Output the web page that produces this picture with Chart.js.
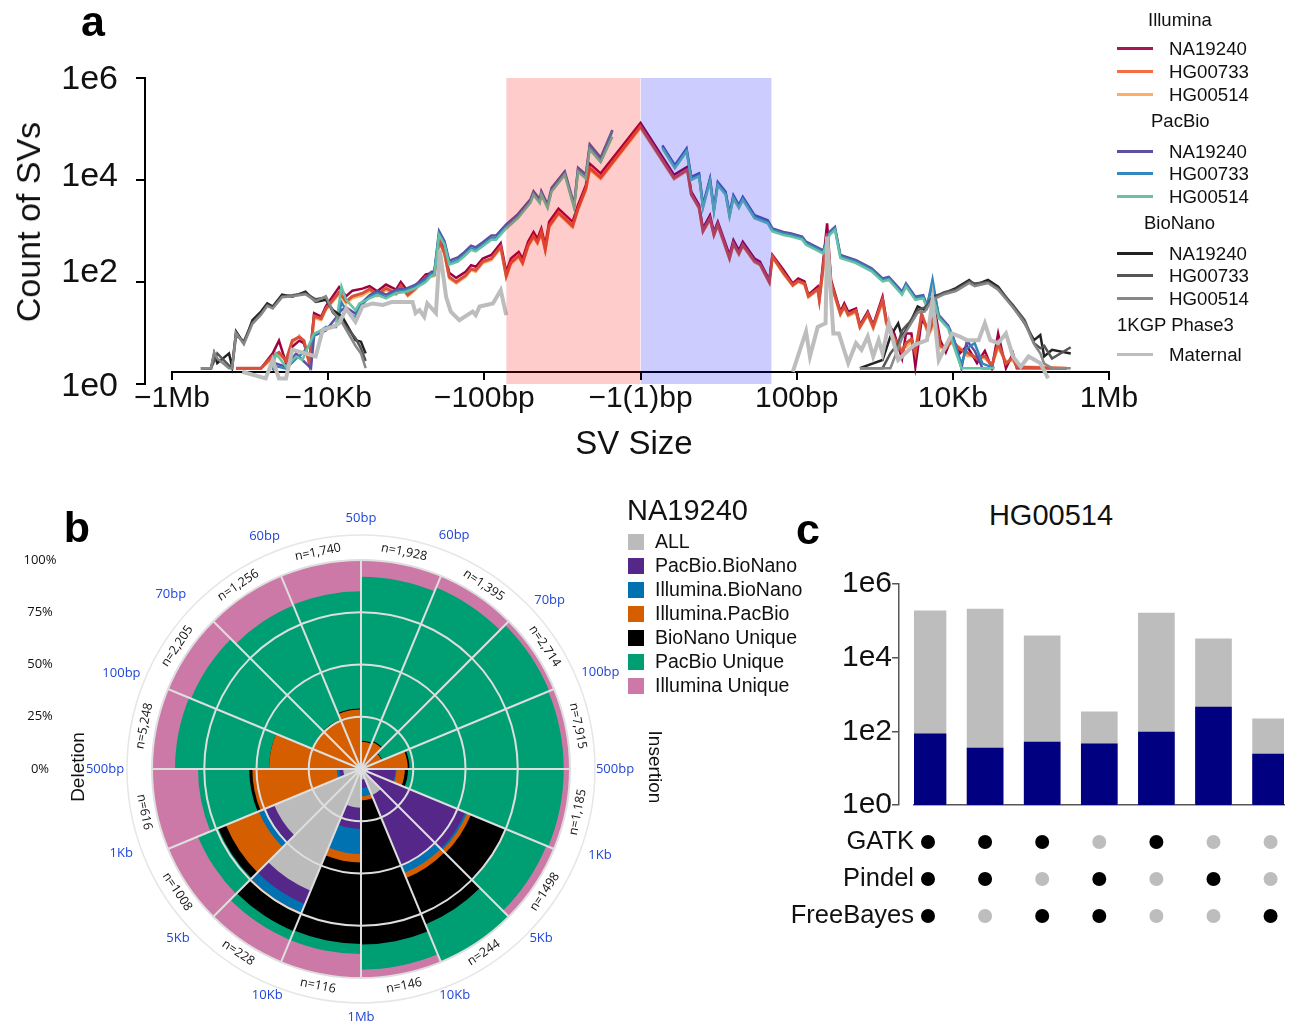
<!DOCTYPE html>
<html lang="en">
<head>
<meta charset="UTF-8">
<title>SV panels</title>
<script src="https://cdn.jsdelivr.net/npm/chart.js"></script>
<style>
    html, body { margin: 0; padding: 0; background: #fff; }
    body { width: 1289px; height: 1026px; position: relative; overflow: hidden; font-family: 'Liberation Sans', Arial, sans-serif; color: #111; }
    canvas { position: absolute; }
    .t { position: absolute; white-space: nowrap; transform: translate(0, -50%); line-height: 1; }
    .c { transform: translate(-50%, -50%); }
    .panel { font-weight: 700; font-size: 43px; color: #000; }
    .line { position: absolute; width: 36px; height: 2.5px; left: 1117px; }
    .swatch { position: absolute; width: 16px; height: 16px; left: 628px; }
</style>
</head>
<body>
<canvas id="sizeChart" width="1289" height="480" style="left:0;top:0"></canvas>
<canvas id="polarChart" width="720" height="536" style="left:0;top:490px"></canvas>
<canvas id="barChart" width="509" height="301" style="left:780px;top:544px"></canvas>
<canvas id="dotChart" width="509" height="110" style="left:780px;top:824px"></canvas>
<div id="labels"></div>

<script>
// panel a: x is signed log10(bp), y is log10(count of SVs)
const sizeTickLabels = { '-6': '\u22121Mb', '-4': '\u221210Kb', '-2': '\u2212100bp', '0': '\u22121(1)bp', '2': '100bp', '4': '10Kb', '6': '1Mb' };
const countTicks = [0, 2, 4, 6];
const delBandX = [-1.72, 0];
const insBandX = [0, 1.68];
const bandTop = [6, 6];

const illuminaX = [
    -5.18,-4.86,-4.71,-4.63,-4.54,-4.46,-4.37,-4.31,-4.24,-4.18,
    -4.09,-4.03,-3.86,-3.77,-3.69,-3.56,-3.47,-3.37,-3.26,-3.13,
    -3.07,-2.98,-2.88,-2.75,-2.64,-2.58,-2.51,-2.45,-2.36,-2.24,
    -2.17,-2.11,-2.02,-1.91,-1.79,-1.72,-1.66,-1.56,-1.51,-1.44,
    -1.37,-1.32,-1.27,-1.22,-1.17,-1.05,-.87,-.80,-.70,-.65,
    -.51,0,.43,.60,.65,.75,.80,.89,.94,.99,
    1.14,1.19,1.26,1.31,1.46,1.53,1.65,1.69,1.83,1.95,
    2.02,2.10,2.15,2.27,2.29,2.39,2.44,2.56,2.61,2.66,
    2.76,2.81,2.91,2.98,3.10,3.15,3.25,3.35,3.40,3.47,
    3.52,3.60,3.69,3.77,3.84,3.91,3.99,4.09,4.18,4.31,
    4.41,4.50,4.58,4.68,4.77,4.82,5.46];
const illuminaNA19240 = [
    .31,.31,.60,.85,.41,.73,.85,.80,.47,1.39,
    1.32,1.52,1.90,1.72,1.83,1.87,1.92,1.82,1.95,1.85,
    2.00,1.82,1.93,2.15,2.18,2.89,2.63,2.18,2.08,2.20,
    2.33,2.30,2.46,2.53,2.76,2.20,2.46,2.59,2.46,2.79,
    2.98,2.85,3.05,2.72,3.18,3.44,3.18,3.51,3.90,4.32,
    4.13,5.12,4.10,4.26,3.77,3.51,3.05,3.31,2.98,3.18,
    2.53,2.82,2.62,2.79,2.46,2.40,2.04,2.53,2.24,1.97,
    2.07,2.01,1.75,1.91,1.68,3.15,2.04,1.42,1.58,1.42,
    1.48,1.16,1.42,1.16,1.71,1.25,.99,.50,.99,.99,
    .34,1.25,1.10,1.45,.85,.62,.93,.60,.75,.41,
    .65,.31,.99,.31,.60,.31,.31];
const illuminaHG00733 = [
    .31,.31,.55,.62,.45,.85,.92,.85,.40,1.33,
    1.28,1.48,1.80,1.62,1.72,1.78,1.86,1.75,1.88,1.78,
    1.93,1.75,1.88,2.10,2.14,2.82,2.57,2.10,2.00,2.13,
    2.26,2.23,2.40,2.46,2.69,2.12,2.38,2.52,2.38,2.72,
    2.90,2.78,2.98,2.64,3.10,3.36,3.10,3.44,3.83,4.24,
    4.05,5.05,4.04,4.20,3.72,3.46,3.00,3.25,2.93,3.13,
    2.47,2.76,2.56,2.73,2.41,2.35,2.00,2.50,2.18,1.94,
    2.02,1.97,1.72,1.86,1.65,2.95,1.98,1.38,1.52,1.36,
    1.44,1.12,1.38,1.12,1.65,1.20,.90,.62,.80,.88,
    .60,1.38,1.00,1.30,.75,.70,.85,.68,.62,.50,
    .55,.35,.80,.40,.52,.33,.31];
const illuminaHG00514 = [
    .31,.31,.50,.58,.50,.80,.95,.78,.38,1.30,
    1.25,1.45,1.76,1.58,1.68,1.74,1.82,1.72,1.84,1.75,
    1.90,1.72,1.85,2.08,2.12,2.78,2.54,2.07,1.97,2.10,
    2.23,2.20,2.37,2.43,2.66,2.09,2.35,2.49,2.35,2.69,
    2.87,2.75,2.95,2.61,3.07,3.33,3.07,3.41,3.80,4.20,
    4.02,5.02,4.01,4.18,3.70,3.44,2.98,3.22,2.90,3.10,
    2.44,2.73,2.53,2.70,2.38,2.33,1.98,2.48,2.16,1.92,
    2.00,1.95,1.70,1.84,1.62,2.85,1.95,1.35,1.50,1.33,
    1.40,1.10,1.35,1.08,1.60,1.15,.85,.70,.72,.82,
    .72,1.32,.95,1.20,.70,.75,.80,.72,.55,.55,
    .50,.38,.70,.45,.45,.35,.31];

const pacbioX = [
    -4.71,-4.67,-4.54,-4.41,-4.33,-4.22,-4.18,-4.03,-3.90,-3.83,
    -3.77,-3.65,-3.60,-3.47,-3.37,-3.26,-3.13,-3.00,-2.88,-2.75,
    -2.68,-2.64,-2.58,-2.51,-2.45,-2.34,-2.26,-2.17,-2.11,-2.02,
    -1.91,-1.85,-1.72,-1.57,-1.41,-1.37,-1.29,-1.27,-1.19,-1.14,
    -.97,-.85,-.80,-.70,-.65,-.51,-.36,0,.28,.44,
    .59,.65,.75,.80,.89,.94,.99,1.09,1.14,1.19,
    1.26,1.31,1.46,1.63,1.69,1.83,1.93,2.07,2.12,2.34,
    2.42,2.49,2.56,2.76,2.96,3.10,3.18,3.35,3.40,3.52,
    3.62,3.67,3.74,3.82,3.94,4.01,4.11,4.18,4.28,4.38,
    4.53];
const pacbioNA19240 = [
    .27,.40,.34,.60,.47,.31,.95,1.05,1.30,1.45,
    1.50,1.38,1.55,1.74,1.82,1.75,1.85,1.87,1.95,2.08,
    2.20,2.21,3.00,2.80,2.42,2.48,2.58,2.71,2.68,2.78,
    2.91,2.91,3.13,3.33,3.62,3.78,3.62,3.78,3.52,3.84,
    4.17,3.52,4.24,4.11,4.70,4.44,4.98,null,4.68,4.29,
    4.62,4.06,4.13,3.51,4.03,3.44,3.96,3.77,3.34,3.70,
    3.51,3.67,3.31,3.21,3.05,2.98,2.95,2.89,2.79,2.62,
    2.98,3.08,2.53,2.43,2.27,2.07,2.10,1.81,1.97,1.71,
    1.74,1.55,1.94,1.35,1.15,.90,.31,.85,.65,.31,
    .31];
const pacbioHG00733 = [
    .27,.35,.30,.50,.60,.80,.95,1.12,1.12,1.60,
    1.45,1.30,1.50,1.71,1.78,1.70,1.81,1.84,1.91,2.04,
    2.16,2.17,2.95,2.76,2.37,2.43,2.53,2.66,2.63,2.73,
    2.86,2.86,3.08,3.28,3.58,3.74,3.58,3.74,3.48,3.80,
    4.13,3.48,4.20,4.07,4.65,4.39,4.96,null,4.65,4.26,
    4.59,4.03,4.10,3.48,4.00,3.41,3.93,3.74,3.31,3.67,
    3.48,3.64,3.28,3.18,3.02,2.95,2.92,2.86,2.76,2.59,
    2.95,3.05,2.50,2.40,2.24,2.04,2.07,1.78,1.94,1.68,
    1.71,1.52,2.05,1.32,1.12,.86,.40,.70,.80,.40,
    .31];
const pacbioHG00514 = [
    .31,.60,.34,.54,.47,.86,.99,1.09,1.16,1.91,
    1.65,1.45,1.58,1.68,1.75,1.68,1.78,1.81,1.88,2.00,
    2.12,2.14,2.92,2.73,2.34,2.40,2.50,2.63,2.60,2.70,
    2.83,2.83,3.05,3.25,3.55,3.71,3.55,3.71,3.45,3.77,
    4.10,3.45,4.16,4.03,4.60,4.35,4.85,null,4.62,4.23,
    4.56,4.00,4.07,3.45,3.97,3.38,3.90,3.71,3.28,3.64,
    3.45,3.61,3.25,3.15,2.99,2.92,2.89,2.83,2.73,2.56,
    2.92,3.02,2.47,2.37,2.21,2.01,2.04,1.75,1.91,1.65,
    1.68,1.49,1.75,1.29,1.09,.75,.31,.31,.31,.31,
    .31];

const bionanoX = [
    -5.63,-5.50,-5.46,-5.42,-5.27,-5.23,-5.18,-5.08,-4.97,-4.86,
    -4.78,-4.71,-4.59,-4.46,-4.29,-4.16,-4.03,-3.94,-3.82,-3.65,
    -3.58,-3.52,0,2.81,3.10,3.20,3.30,3.35,3.45,3.55,
    3.64,3.74,3.89,4.04,4.21,4.28,4.45,4.58,4.77,4.92,
    5.04,5.12,5.17,5.27,5.51];
const bionanoNA19240 = [
    .31,.31,.60,.41,.60,.34,1.03,.80,1.25,1.42,
    1.58,1.52,1.75,1.71,1.81,1.61,1.65,1.45,1.32,.86,
    .83,.60,null,.31,.47,.93,1.19,.93,1.19,1.52,
    1.45,1.71,1.78,1.88,2.04,1.94,2.04,1.91,1.52,1.19,
    .86,.96,.54,.67,.60];
const bionanoHG00733 = [
    .31,.31,.45,.60,.36,.31,.95,.84,1.20,1.38,
    1.55,1.50,1.72,1.74,1.78,1.66,1.70,1.40,1.22,.90,
    .70,.45,null,.31,.31,.60,.80,1.05,1.22,1.45,
    1.50,1.68,1.80,1.85,2.01,1.97,2.00,1.88,1.55,1.25,
    .80,.70,.75,.50,.72];
const bionanoHG00514 = [
    .31,.31,.62,.50,.31,.31,1.00,.78,1.18,1.36,
    1.53,1.48,1.70,1.72,1.76,1.62,1.72,1.42,1.20,.75,
    .60,.31,null,.31,.31,.31,.70,.90,1.15,1.40,
    1.42,1.65,1.76,1.82,1.98,1.92,1.98,1.85,1.50,1.20,
    .78,.60,.40,.31,.31];

const maternalX = [
    -5.10,-4.80,-4.71,-4.63,-4.54,-4.46,-4.29,-4.16,-4.07,-3.94,
    -3.86,-3.77,-3.65,-3.56,-3.43,-3.30,-3.18,-2.92,-2.88,-2.83,
    -2.77,-2.73,-2.62,-2.57,-2.49,-2.43,-2.32,-2.15,-2.11,-2.06,
    -1.89,-1.79,-1.72,0,1.95,2.12,2.17,2.27,2.37,2.39,
    2.47,2.54,2.66,2.76,2.83,2.91,2.98,3.05,3.10,3.18,
    3.30,3.50,3.67,3.74,3.82,3.99,4.09,4.18,4.33,4.41,
    4.48,4.58,4.68,4.77,4.87,4.97,5.12,5.22];
const maternalY = [
    .24,.11,.47,.11,.11,.67,.60,.54,1.06,1.12,
    1.19,1.48,1.22,1.52,1.58,1.55,1.61,1.61,1.39,1.45,
    1.32,1.58,1.39,2.63,1.71,1.42,1.25,1.42,1.35,1.52,
    1.58,1.84,1.35,null,.24,1.03,.54,1.12,1.19,2.89,
    .99,.99,.41,.80,.67,.93,.54,.86,.60,1.19,
    .47,.76,.86,1.65,.47,.99,.93,.86,.86,1.19,
    .86,.80,.99,.54,.34,.54,.41,.11];

// panel b: share of each caller set per size bin, clockwise from the top
const binLabels = ['50bp','60bp','70bp','100bp','500bp','1Kb','5Kb','10Kb','1Mb','10Kb','5Kb','1Kb','500bp','100bp','70bp','60bp'];
const binCounts = ['n=1,928','n=1,395','n=2,714','n=7,915','n=1,185','n=1498','n=244','n=146','n=116','n=228','n=1008','n=616','n=5,248','n=2,205','n=1,256','n=1,740'];
const percentTicks = [0, 25, 50, 75, 100];
const allShare        = [0, 0, 0, 0, 3.5, 3, 13.5, 5, 18.5, 63, 45, 8.5, 1, 1, 1, 0];
const pacbioBionano   = [0, 0, 0, 0, 13, 51, 37, 4, 10.2, 7, 4.5, 1.8, 0, 0, 0, 0];
const illuminaBionano = [0, 0, 0, 0, .5, 1, 3.5, 4, 12, 4.5, 3.5, 1.3, 0, 0, 0, 0];
const illuminaPacbio  = [13, 14, 10.7, 22.4, 4, 2, 2.5, 2, 4, 1, 17, 40.4, 43, 24.5, 24.5, 28.5];
const bionanoUnique   = [.5, .5, .3, .8, 1.5, 18, 24, 69, 39, 8.5, 4, 1.5, 0, 0, .2, .5];
const pacbioUnique    = [78.5, 79.5, 86.5, 73.8, 74.5, 21, 19.5, 12, 4.8, 4.5, 10.5, 24.5, 45, 62.5, 59, 56];
const illuminaUnique  = [8, 6, 2.5, 3, 3, 4, 0, 4, 11.5, 11.5, 15.5, 22, 11, 12, 15.3, 15];
const setNames = ['ALL','PacBio.BioNano','Illumina.BioNano','Illumina.PacBio','BioNano Unique','PacBio Unique','Illumina Unique'];
const setColors = ['#bbbbbb','#542788','#0072b2','#d55e00','#000000','#009e73','#cc79a7'];

// panel c: counts per caller combination
const comboIndex = [0, 1, 2, 3, 4, 5, 6];
const allCounts = [186000, 209000, 38900, 339, 162000, 32400, 219];
const sharedCounts = [85, 35, 51, 46, 96, 457, 24];
const tools = ['GATK', 'Pindel', 'FreeBayes'];
const gatkHit = [1, 1, 1, 0, 1, 0, 0];
const pindelHit = [1, 1, 0, 1, 0, 1, 0];
const freebayesHit = [1, 0, 1, 1, 0, 0, 1];

function pairs(xs, ys) {
    return xs.map((x, i) => ({ x: x, y: ys[i] }));
}

function sizeLine(label, xs, ys, color, width, order) {
    return { label: label, data: pairs(xs, ys), borderColor: color, borderWidth: width, pointRadius: 0, tension: 0, spanGaps: false, fill: false, order: order };
}

function band(label, xs, color) {
    return { label: label, data: pairs(xs, bandTop), borderWidth: 0, pointRadius: 0, backgroundColor: color, fill: 'origin', order: 0 };
}

// labels in the reference sit a little off their tick marks
const countLabelNudge = { 0: -0.06, 2: 0.18, 4: 0.06, 6: -0.04 };

new Chart(document.getElementById('sizeChart'), {
    type: 'line',
    data: {
        datasets: [
            band('Deletions', delBandX, 'rgba(255,0,0,0.2)'),
            band('Insertions', insBandX, 'rgba(0,0,255,0.2)'),
            sizeLine('Maternal', maternalX, maternalY, '#bdbdbd', 4, 1),
            sizeLine('BioNano NA19240', bionanoX, bionanoNA19240, '#222222', 2.5, 4),
            sizeLine('BioNano HG00733', bionanoX, bionanoHG00733, '#555555', 2.5, 3),
            sizeLine('BioNano HG00514', bionanoX, bionanoHG00514, '#888888', 2.5, 2),
            sizeLine('PacBio HG00514', pacbioX, pacbioHG00514, '#66c2a5', 2.5, 5),
            sizeLine('PacBio HG00733', pacbioX, pacbioHG00733, '#3288bd', 2.5, 6),
            sizeLine('PacBio NA19240', pacbioX, pacbioNA19240, '#5e4fa2', 2.5, 7),
            sizeLine('Illumina HG00733', illuminaX, illuminaHG00733, '#d9503a', 3, 8),
            sizeLine('Illumina NA19240', illuminaX, illuminaNA19240, '#9e0142', 2.5, 9),
            sizeLine('Illumina HG00514', illuminaX, illuminaHG00514, '#fdae61', 2.5, 10)
        ]
    },
    options: {
        responsive: false,
        animation: false,
        layout: { autoPadding: false, padding: { left: 57, right: 180, top: 78, bottom: 96 } },
        plugins: { legend: { display: false }, tooltip: { enabled: false } },
        scales: {
            x: {
                type: 'linear', min: -6, max: 6,
                position: { y: 0.235 },
                border: { color: '#000', width: 2 },
                grid: { drawOnChartArea: false, color: '#000', lineWidth: 2, tickLength: 7 },
                ticks: {
                    stepSize: 2, autoSkip: false, maxRotation: 0, padding: 2, color: '#111',
                    font: { family: 'Liberation Sans', size: 30 },
                    callback: (v) => sizeTickLabels[v]
                }
            },
            y: {
                type: 'linear', min: 0, max: 6,
                position: { x: -6.346 },
                border: { color: '#000', width: 2 },
                grid: { drawOnChartArea: false, color: '#000', lineWidth: 2, tickLength: 8 },
                ticks: { stepSize: 2, display: false }
            },
            // carries the tick text only, the axis line above stands off the plot
            yText: {
                type: 'linear', min: 0, max: 6, position: 'left',
                afterFit: (s) => { s.width = 115; },
                afterBuildTicks: (s) => { s.ticks = countTicks.map((v) => ({ value: v + countLabelNudge[v] })); },
                border: { display: false },
                grid: { display: false, drawTicks: false },
                ticks: {
                    autoSkip: false, padding: 54, color: '#111',
                    font: { family: 'Liberation Sans', size: 34 },
                    callback: (v) => '1e' + Math.abs(Math.round(v))
                }
            }
        }
    }
});

// stack the shares into outer radii, the innermost dataset sits on top
const shareRows = [allShare, pacbioBionano, illuminaBionano, illuminaPacbio, bionanoUnique, pacbioUnique, illuminaUnique];
const running = binLabels.map(() => 0);
const polarSets = shareRows.map((row, s) => {
    row.forEach((v, i) => { running[i] += v; });
    return { label: setNames[s], data: running.slice(), backgroundColor: setColors[s], borderWidth: 0 };
});

// the blue labels do not sit exactly on their spokes
const binLabelRadius = [251, 252, 253, 258, 254, 254, 247, 245, 248, 245, 249, 254, 256, 258, 258, 252];
const binLabelTurn = [0, -0.8, 3.2, 0.6, 0, -2.7, -1.8, 0, 0, 0, 2.3, 3.2, 0, -0.7, -2.5, 0];

const polarText = {
    id: 'polarText',
    afterDraw(chart) {
        const scale = chart.scales.r;
        const ctx = chart.ctx;
        const half = Math.PI / 16;
        ctx.save();
        ctx.beginPath();
        ctx.arc(scale.xCenter, scale.yCenter, 234, 0, Math.PI * 2);
        ctx.strokeStyle = '#e6e6e6';
        ctx.lineWidth = 1.5;
        ctx.stroke();
        ctx.textAlign = 'center';
        ctx.textBaseline = 'middle';
        ctx.font = "13px 'Open Sans'";
        ctx.fillStyle = '#2146d8';
        binLabels.forEach((text, i) => {
            const p = scale.getPointPosition(i, binLabelRadius[i], binLabelTurn[i] * Math.PI / 180);
            ctx.fillText(text, p.x, p.y);
        });
        ctx.fillStyle = '#111';
        percentTicks.forEach((v) => {
            ctx.fillText(v + '%', 40, scale.yCenter - scale.getDistanceFromCenterForValue(v));
        });
        ctx.font = "12.5px 'Open Sans'";
        binCounts.forEach((text, i) => {
            const deg = (i + 0.5) * 22.5;
            const p = scale.getPointPosition(i, 221, half);
            ctx.save();
            ctx.translate(p.x, p.y);
            ctx.rotate((deg > 90 && deg < 270 ? deg - 180 : deg) * Math.PI / 180);
            ctx.fillText(text, 0, 0);
            ctx.restore();
        });
        ctx.restore();
    }
};

new Chart(document.getElementById('polarChart'), {
    type: 'polarArea',
    data: { labels: binLabels, datasets: polarSets },
    options: {
        responsive: false,
        animation: false,
        layout: { autoPadding: false, padding: { left: 152, right: 150, top: 70, bottom: 48 } },
        plugins: { legend: { display: false }, tooltip: { enabled: false } },
        scales: {
            r: {
                min: 0, max: 100,
                ticks: { display: false, stepSize: 25 },
                pointLabels: { display: false },
                grid: { circular: true, color: '#dedede', lineWidth: 2, z: 1 },
                angleLines: { display: true, color: '#dedede', lineWidth: 2 }
            }
        }
    },
    plugins: [polarText]
});

new Chart(document.getElementById('barChart'), {
    type: 'bar',
    data: {
        datasets: [
            { label: 'Shared', data: pairs(comboIndex, sharedCounts), backgroundColor: '#000080', grouped: false, barThickness: 36 },
            { label: 'All', data: pairs(comboIndex, allCounts), backgroundColor: '#bdbdbd', grouped: false, barThickness: 36 }
        ]
    },
    options: {
        responsive: false,
        animation: false,
        layout: { autoPadding: false, padding: { left: 54, right: 5, top: 40, bottom: 40 } },
        plugins: { legend: { display: false }, tooltip: { enabled: false } },
        scales: {
            x: {
                type: 'linear', min: -0.245, max: 6.235, offset: false,
                border: { color: '#555', width: 1.5 },
                grid: { display: false, drawTicks: false, offset: false },
                ticks: { display: false }
            },
            y: {
                type: 'logarithmic', min: 1, max: 1000000,
                position: { x: -0.508 },
                border: { color: '#555', width: 1.5 },
                grid: { drawOnChartArea: false, color: '#555', lineWidth: 1.5, tickLength: 6 },
                afterBuildTicks: (axis) => { axis.ticks = [1, 100, 10000, 1000000].map((v) => ({ value: v })); },
                ticks: { display: false }
            },
            yText: {
                type: 'logarithmic', min: 1, max: 1000000, position: 'left',
                afterFit: (s) => { s.width = 80; },
                afterBuildTicks: (axis) => { axis.ticks = [1, 100, 10000, 1000000].map((v) => ({ value: v })); },
                border: { display: false },
                grid: { display: false, drawTicks: false },
                ticks: {
                    autoSkip: false, padding: 22, color: '#111',
                    font: { family: 'Liberation Sans', size: 30 },
                    callback: (v) => '1e' + Math.round(Math.log10(v))
                }
            }
        }
    }
});

const hitRows = [gatkHit, pindelHit, freebayesHit];
new Chart(document.getElementById('dotChart'), {
    type: 'scatter',
    data: {
        datasets: tools.map((tool, r) => ({
            label: tool,
            data: comboIndex.map((i) => ({ x: i, y: tool })),
            pointRadius: 7,
            pointBackgroundColor: hitRows[r].map((h) => (h ? '#000' : '#bdbdbd')),
            pointBorderWidth: 0
        }))
    },
    options: {
        responsive: false,
        animation: false,
        layout: { autoPadding: false, padding: { left: 134, right: 5, top: 18, bottom: 18 } },
        plugins: { legend: { display: false }, tooltip: { enabled: false } },
        scales: {
            x: { type: 'linear', min: -0.245, max: 6.235, display: false },
            y: {
                type: 'category', labels: tools,
                position: { x: -0.245 },
                border: { display: false },
                grid: { display: false },
                ticks: { padding: 2, color: '#111', font: { family: 'Liberation Sans', size: 25.5 } }
            }
        }
    }
});

// page text and the two legends
const labelBox = document.getElementById('labels');

function addText(text, x, y, size, extra) {
    const d = document.createElement('div');
    d.className = 't ' + (extra || '');
    d.textContent = text;
    d.style.left = x + 'px';
    d.style.top = y + 'px';
    if (size) d.style.fontSize = size + 'px';
    labelBox.appendChild(d);
    return d;
}

addText('a', 93, 21, 0, 'panel c');
addText('b', 77, 527, 0, 'panel c');
addText('c', 808, 529, 0, 'panel c');
addText('SV Size', 634, 442, 33, 'c');
addText('Count of SVs', 28, 222, 34, 'c').style.transform = 'translate(-50%,-50%) rotate(-90deg)';
addText('Deletion', 77, 767, 19, 'c').style.transform = 'translate(-50%,-50%) rotate(-90deg)';
addText('Insertion', 655, 767, 19, 'c').style.transform = 'translate(-50%,-50%) rotate(90deg)';
addText('HG00514', 1051, 515, 29, 'c');
addText('NA19240', 627, 510, 29);

const groupHeads = [['Illumina', 1148, 20], ['PacBio', 1151, 121], ['BioNano', 1144, 223], ['1KGP Phase3', 1117, 325]];
const legendLines = [
    ['NA19240', 48, '#a8174f'], ['HG00733', 71, '#f46d43'], ['HG00514', 94, '#fdae61'],
    ['NA19240', 151, '#5e4fa2'], ['HG00733', 173, '#3288bd'], ['HG00514', 196, '#66c2a5'],
    ['NA19240', 253, '#222222'], ['HG00733', 275, '#555555'], ['HG00514', 298, '#888888'],
    ['Maternal', 354, '#bdbdbd']
];
groupHeads.forEach((g) => addText(g[0], g[1], g[2], 18.5));
legendLines.forEach((l) => {
    addText(l[0], 1169, l[1] + 1, 18.7);
    const line = document.createElement('div');
    line.className = 'line';
    line.style.top = (l[1] - 1) + 'px';
    line.style.background = l[2];
    labelBox.appendChild(line);
});

setNames.forEach((name, i) => {
    const y = 542 + i * 23.95;
    addText(name, 655, y, 19.5);
    const sw = document.createElement('div');
    sw.className = 'swatch';
    sw.style.top = (y - 8) + 'px';
    sw.style.background = setColors[i];
    labelBox.appendChild(sw);
});
</script>
</body>
</html>
